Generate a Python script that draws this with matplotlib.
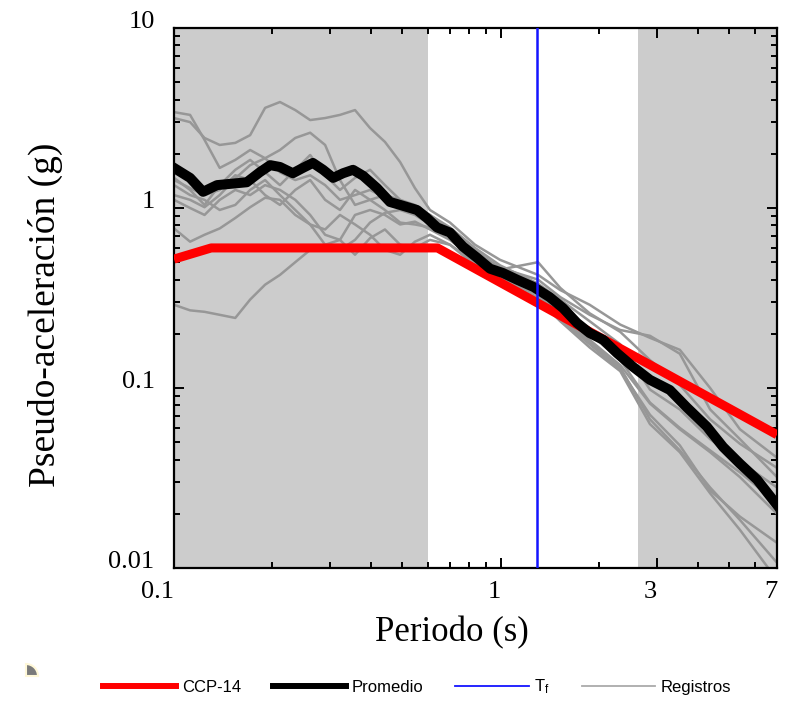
import numpy as np
import matplotlib
matplotlib.use("Agg")
import matplotlib.pyplot as plt
from matplotlib.lines import Line2D
from matplotlib.patches import Wedge
from matplotlib.ticker import NullFormatter, FixedLocator

# periodos comunes de los registros (s)
T_reg = [0.10, 0.112, 0.124, 0.138, 0.154, 0.171, 0.190, 0.211, 0.235, 0.261,
         0.290, 0.322, 0.358, 0.398, 0.442, 0.492, 0.546, 0.607, 0.699, 0.834,
         0.995, 1.30, 1.52, 1.87, 2.32, 2.86, 3.53, 4.37, 5.39, 7.0]

# pseudo-aceleraciones de cada registro (g)
registros = [
    [3.16, 3.0, 2.45, 2.24, 2.3, 2.54, 3.6, 3.88, 3.5, 3.08,
     3.16, 3.29, 3.5, 2.78, 2.33, 1.80, 1.29, 0.975, 0.83, 0.625,
     0.515, 0.425, 0.35, 0.29, 0.225, 0.19, 0.163, 0.10, 0.059, 0.041],
    [3.41, 3.29, 2.39, 1.67, 1.85, 2.10, 1.89, 1.58, 1.43, 1.52,
     1.34, 1.11, 1.18, 1.26, 1.14, 1.0, 0.95, 0.83, 0.71, 0.575,
     0.465, 0.40, 0.32, 0.255, 0.21, 0.195, 0.155, 0.076, 0.052, 0.032],
    [1.18, 1.11, 1.01, 1.18, 1.46, 1.73, 1.89, 2.10, 2.45, 2.62,
     2.24, 1.43, 1.04, 1.11, 1.18, 1.11, 0.975, 0.915, 0.78, 0.60,
     0.48, 0.38, 0.31, 0.235, 0.175, 0.098, 0.076, 0.052, 0.039, 0.028],
    [1.47, 1.26, 1.04, 1.34, 1.63, 1.85, 1.58, 1.34, 1.63, 1.97,
     1.52, 1.26, 1.47, 1.63, 1.34, 1.11, 1.04, 0.915, 0.74, 0.55,
     0.425, 0.35, 0.27, 0.20, 0.143, 0.083, 0.06, 0.045, 0.034, 0.023],
    [1.11, 1.0, 0.915, 1.11, 1.26, 1.18, 1.34, 1.26, 1.11, 0.915,
     0.71, 0.665, 0.915, 0.975, 0.915, 0.81, 0.84, 0.76, 0.665, 0.515,
     0.41, 0.34, 0.255, 0.185, 0.134, 0.082, 0.059, 0.044, 0.032, 0.020],
    [0.77, 0.65, 0.71, 0.77, 0.88, 1.01, 1.14, 1.11, 0.915, 0.81,
     0.625, 0.585, 0.665, 0.83, 0.94, 0.975, 0.915, 0.81, 0.69, 0.50,
     0.39, 0.32, 0.24, 0.175, 0.126, 0.071, 0.048, 0.027, 0.0193, 0.0138],
    [0.29, 0.27, 0.265, 0.255, 0.245, 0.31, 0.375, 0.425, 0.50, 0.585,
     0.625, 0.665, 0.55, 0.68, 0.76, 0.625, 0.60, 0.665, 0.625, 0.50,
     0.375, 0.31, 0.235, 0.168, 0.124, 0.063, 0.044, 0.026, 0.0163, 0.0086],
    [1.34, 1.18, 1.11, 0.975, 1.04, 1.26, 1.43, 1.18, 0.975, 0.81,
     0.76, 0.915, 0.81, 0.71, 0.585, 0.55, 0.65, 0.71, 0.625, 0.48,
     0.40, 0.33, 0.245, 0.18, 0.13, 0.067, 0.045, 0.028, 0.0185, 0.0107],
    [1.43, 1.29, 1.18, 1.26, 1.52, 1.43, 1.18, 1.04, 1.26, 1.43,
     1.11, 0.975, 1.26, 1.11, 0.975, 0.83, 0.81, 0.78, 0.76, 0.585,
     0.455, 0.50, 0.36, 0.26, 0.205, 0.143, 0.104, 0.067, 0.049, 0.036],
]

# espectro promedio
T_prom = [0.10, 0.112, 0.1227, 0.1354, 0.167, 0.183, 0.197, 0.211, 0.231, 0.248,
          0.266, 0.286, 0.307, 0.329, 0.353, 0.379, 0.418, 0.458, 0.492, 0.554,
          0.594, 0.638, 0.699, 0.766, 0.845, 0.927, 1.016, 1.12, 1.26, 1.41,
          1.55, 1.71, 1.87, 2.06, 2.27, 2.54, 2.86, 3.29, 3.71, 4.27,
          4.79, 5.39, 6.08, 7.0]
Sa_prom = [1.67, 1.47, 1.23, 1.34, 1.39, 1.58, 1.73, 1.69, 1.56, 1.67,
           1.78, 1.63, 1.47, 1.56, 1.63, 1.51, 1.29, 1.08, 1.04, 0.975,
           0.88, 0.78, 0.73, 0.61, 0.53, 0.46, 0.435, 0.40, 0.364, 0.32,
           0.278, 0.23, 0.202, 0.185, 0.156, 0.131, 0.111, 0.0975, 0.078, 0.061,
           0.047, 0.038, 0.031, 0.0224]

# espectro de diseño CCP-14
T_ccp = [0.10, 0.13, 0.64, 7.0]
Sa_ccp = [0.52, 0.60, 0.60, 0.055]

T_f = 1.29
rango_blanco = (0.60, 2.63)

serif = "Liberation Serif"
sans = "Liberation Sans"

fig = plt.figure(figsize=(7.93, 7.01), dpi=100)
ax = fig.add_axes([174 / 793, 1 - 568 / 701, 603 / 793, 540 / 701])
ax.set_facecolor("#cccccc")
ax.set_xscale("log")
ax.set_yscale("log")
ax.set_xlim(0.1, 7)
ax.set_ylim(0.01, 10)

ax.axvspan(rango_blanco[0], rango_blanco[1], color="white", lw=0, zorder=0.5)

for sa in registros:
    ax.plot(T_reg, sa, color="#979797", lw=1.8, zorder=2)
ax.plot(T_ccp, Sa_ccp, color="#ff0000", lw=6.5, solid_capstyle="butt", zorder=3)
ax.plot(T_prom, Sa_prom, color="black", lw=7.2, solid_joinstyle="round", zorder=4)
ax.axvline(T_f, color="#1414ff", lw=1.8, zorder=5)

ax.xaxis.set_major_locator(FixedLocator([0.1, 1, 3, 7]))
ax.set_xticklabels(["0.1", "1", "3", "7"])
ax.xaxis.set_minor_locator(FixedLocator([0.2, 0.3, 0.4, 0.5, 0.6, 0.7, 0.8, 0.9, 2, 4, 5, 6]))
ax.xaxis.set_minor_formatter(NullFormatter())
ax.yaxis.set_major_locator(FixedLocator([0.01, 0.1, 1, 10]))
ax.set_yticklabels(["0.01", "0.1", "1", "10"])
ax.yaxis.set_minor_locator(FixedLocator([m * d for d in (0.01, 0.1, 1) for m in range(2, 10)]))
ax.yaxis.set_minor_formatter(NullFormatter())

ax.tick_params(which="both", direction="in", top=True, right=True, width=1.4)
ax.tick_params(which="major", length=7)
ax.tick_params(which="minor", length=4)
ax.tick_params(axis="x", pad=9)
ax.tick_params(axis="y", pad=14)
for lab in ax.get_xticklabels():
    lab.set_fontfamily(serif)
    lab.set_fontsize(19)
    lab.set_horizontalalignment("right")
for lab in ax.get_yticklabels():
    lab.set_fontfamily(serif)
    lab.set_fontsize(19)
    lab.set_verticalalignment("baseline")
for sp in ax.spines.values():
    sp.set_linewidth(1.6)

fig.text(452 / 793, 1 - 633 / 701, "Periodo (s)", family=serif, fontsize=25,
         ha="center", va="center")
fig.text(45 / 793, 1 - 315 / 701, "Pseudo-aceleración (g)", family=serif, fontsize=27,
         rotation=90, ha="center", va="center")

handles = [
    Line2D([], [], color="#ff0000", lw=4.3),
    Line2D([], [], color="black", lw=4.3),
    Line2D([], [], color="#1414ff", lw=1.3),
    Line2D([], [], color="#aaaaaa", lw=1.3),
]
labels = ["CCP-14", "Promedio", r"$\mathregular{T_f}$", "Registros"]
leg = fig.legend(handles, labels, loc="center", bbox_to_anchor=(417 / 793, 1 - 687 / 701),
                 ncol=4, frameon=False, handlelength=4.4, handletextpad=0.35,
                 columnspacing=1.9, prop={"family": sans, "size": 12})

# pequeña marca en la esquina inferior izquierda
fig.add_artist(Wedge((0.26, 0.25), 0.12, 0, 90, transform=fig.dpi_scale_trans,
                     facecolor="#7a7a7a", edgecolor="#fff8d8", lw=1.5))

fig.savefig("out.png", dpi=100)
